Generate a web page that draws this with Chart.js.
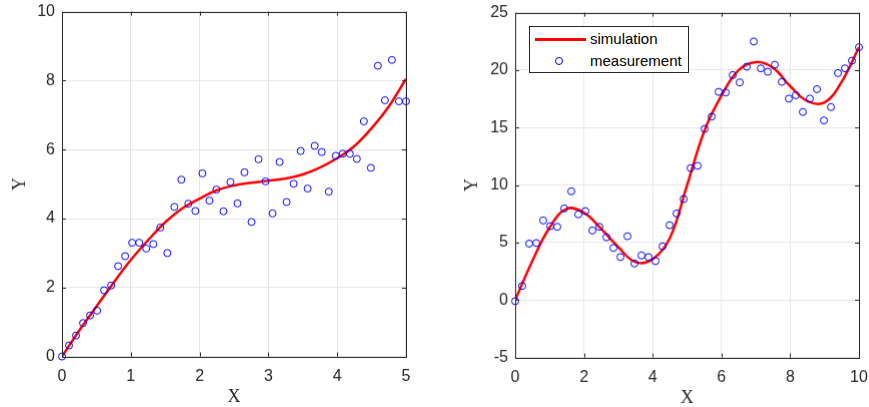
<!DOCTYPE html>
<html>
<head>
<meta charset="utf-8">
<script src="https://cdn.jsdelivr.net/npm/chart.js"></script>
<style>
    body { margin: 0; background: #fff; width: 869px; height: 407px; overflow: hidden; position: relative; font-family: 'Liberation Sans', Arial, sans-serif; }
    .panel { position: absolute; top: 0; height: 407px; }
    #leftBox { left: 0; width: 435px; }
    #rightBox { left: 440px; width: 429px; }
    .legend { position: absolute; left: 529px; top: 26px; width: 160px; height: 47px; box-sizing: border-box; border: 1px solid #262626; background: #fff; font-size: 15px; color: #000; z-index: 2; }
    .legend .line { position: absolute; left: 5px; top: 11px; width: 51px; height: 3px; background: #ff0000; }
    .legend .dot { position: absolute; left: 25px; top: 30px; width: 8px; height: 8px; box-sizing: border-box; border: 1px solid #0000ff; border-radius: 50%; }
    .legend .txt { position: absolute; left: 60px; line-height: 18px; }
</style>
</head>
<body>
<div class="panel" id="leftBox"><canvas id="leftChart"></canvas></div>
<div class="panel" id="rightBox"><canvas id="rightChart"></canvas></div>
<div class="legend">
    <div class="line"></div><div class="txt" style="top:3px">simulation</div>
    <div class="dot"></div><div class="txt" style="top:25px">measurement</div>
</div>
<script>
// Left panel data
const leftX = [0, 0.102, 0.204, 0.306, 0.408, 0.510, 0.612, 0.714, 0.816, 0.918,
    1.020, 1.122, 1.224, 1.327, 1.429, 1.531, 1.633, 1.735, 1.837, 1.939,
    2.041, 2.143, 2.245, 2.347, 2.449, 2.551, 2.653, 2.755, 2.857, 2.959,
    3.061, 3.163, 3.265, 3.367, 3.469, 3.571, 3.673, 3.776, 3.878, 3.980,
    4.082, 4.184, 4.286, 4.388, 4.490, 4.592, 4.694, 4.796, 4.898, 5.0];
const leftMeas = [0, 0.32, 0.61, 0.97, 1.19, 1.33, 1.92, 2.06, 2.62, 2.91,
    3.30, 3.30, 3.13, 3.26, 3.74, 3.00, 4.34, 5.13, 4.43, 4.22,
    5.31, 4.52, 4.84, 4.21, 5.06, 4.44, 5.34, 3.90, 5.72, 5.08,
    4.15, 5.64, 4.48, 5.01, 5.96, 4.87, 6.11, 5.93, 4.78, 5.82,
    5.88, 5.88, 5.73, 6.82, 5.47, 8.43, 7.43, 8.60, 7.40, 7.40];
const leftSimX = [0, 0.25, 0.5, 0.75, 1, 1.25, 1.5, 1.75, 2, 2.25, 2.5,
    2.75, 3, 3.25, 3.5, 3.75, 4, 4.25, 4.5, 4.75, 5];
const leftSim = [0, 0.75, 1.45, 2.14, 2.80, 3.37, 3.89, 4.30, 4.58, 4.82, 4.96,
    5.04, 5.10, 5.16, 5.28, 5.48, 5.75, 6.10, 6.62, 7.25, 8.05];

// Right panel data
const rightX = [0, 0.204, 0.408, 0.612, 0.816, 1.020, 1.224, 1.429, 1.633, 1.837,
    2.041, 2.245, 2.449, 2.653, 2.857, 3.061, 3.265, 3.469, 3.673, 3.878,
    4.082, 4.286, 4.490, 4.694, 4.898, 5.102, 5.306, 5.510, 5.714, 5.918,
    6.122, 6.327, 6.531, 6.735, 6.939, 7.143, 7.347, 7.551, 7.755, 7.959,
    8.163, 8.367, 8.571, 8.776, 8.980, 9.184, 9.388, 9.592, 9.796, 10.0];
const rightMeas = [-0.1, 1.23, 4.91, 4.96, 6.92, 6.43, 6.37, 7.97, 9.46, 7.45,
    7.74, 6.05, 6.37, 5.46, 4.53, 3.74, 5.55, 3.18, 3.88, 3.74,
    3.39, 4.67, 6.51, 7.53, 8.79, 11.48, 11.68, 14.89, 15.95, 18.11,
    18.05, 19.57, 18.93, 20.30, 22.49, 20.15, 19.86, 20.47, 18.98, 17.52,
    17.82, 16.36, 17.52, 18.34, 15.62, 16.79, 19.74, 20.15, 20.82, 21.99];
const rightSimX = [0, 0.5, 1, 1.5, 2, 2.5, 3, 3.5, 4, 4.5, 5,
    5.5, 6, 6.5, 7, 7.5, 8, 8.5, 9, 9.5, 10];
const rightSim = [0, 3.4, 6.3, 7.95, 7.6, 6.2, 4.6, 3.3, 3.55, 5.4, 10.0,
    14.7, 17.8, 20.0, 20.7, 20.2, 18.6, 17.3, 17.2, 19.0, 22.0];

const axisColor = '#262626';
const gridColor = '#e6e6e6';
const tickFont = { family: "'Liberation Sans', Arial, sans-serif", size: 16 };
const titleFont = { family: "'Liberation Serif', 'Times New Roman', serif", size: 18 };

// box around the plot area + inward tick marks (matlab style)
const boxTicks = {
    id: 'boxTicks',
    afterDraw(chart) {
        const { ctx, chartArea: a, scales: { x, y } } = chart;
        const len = 4;
        ctx.save();
        ctx.strokeStyle = axisColor;
        ctx.lineWidth = 1;
        ctx.beginPath();
        x.ticks.forEach(t => {
            const px = Math.round(x.getPixelForValue(t.value)) + 0.5;
            ctx.moveTo(px, a.bottom); ctx.lineTo(px, a.bottom - len);
            ctx.moveTo(px, a.top); ctx.lineTo(px, a.top + len);
        });
        y.ticks.forEach(t => {
            const py = Math.round(y.getPixelForValue(t.value)) + 0.5;
            ctx.moveTo(a.left, py); ctx.lineTo(a.left + len, py);
            ctx.moveTo(a.right, py); ctx.lineTo(a.right - len, py);
        });
        ctx.stroke();
        ctx.strokeRect(Math.round(a.left) + 0.5, Math.round(a.top) + 0.5, Math.round(a.width), Math.round(a.height));
        ctx.restore();
    }
};

function toPoints(xs, ys) {
    return xs.map((v, i) => ({ x: v, y: ys[i] }));
}

function makeChart(id, meas, sim, xr, yr, yWidth, yTitlePad) {
    return new Chart(document.getElementById(id), {
        type: 'scatter',
        data: {
            datasets: [
                {
                    label: 'measurement',
                    data: meas,
                    pointStyle: 'circle',
                    pointRadius: 3.5,
                    pointBorderWidth: 1,
                    borderColor: '#0000ff',
                    backgroundColor: 'rgba(0,0,0,0)',
                    clip: false
                },
                {
                    label: 'simulation',
                    data: sim,
                    showLine: true,
                    borderColor: '#ff0000',
                    borderWidth: 2.5,
                    pointRadius: 0,
                    tension: 0.4
                }
            ]
        },
        options: {
            responsive: true,
            maintainAspectRatio: false,
            animation: false,
            layout: { padding: { top: 0, right: 12, left: 0, bottom: 0 } },
            plugins: { legend: { display: false }, tooltip: { enabled: false } },
            scales: {
                x: {
                    type: 'linear', min: xr[0], max: xr[1],
                    ticks: { stepSize: xr[2], padding: 10, color: axisColor, font: tickFont, maxRotation: 0 },
                    grid: { color: gridColor, drawTicks: false },
                    border: { display: false },
                    title: { display: true, text: 'X', color: axisColor, font: titleFont, padding: { top: 0, bottom: 0 } },
                    afterFit(s) { s.height = 51; }
                },
                y: {
                    type: 'linear', min: yr[0], max: yr[1],
                    ticks: { stepSize: yr[2], padding: 7, color: axisColor, font: tickFont },
                    grid: { color: gridColor, drawTicks: false },
                    border: { display: false },
                    title: { display: true, text: 'Y', color: axisColor, font: titleFont, padding: { top: yTitlePad, bottom: 0 } },
                    afterFit(s) { s.width = yWidth; }
                }
            }
        },
        plugins: [boxTicks]
    });
}

// move/resize the panel so the plot area lands where the reference has it
function fitPanel(chart, box, area) {
    const a = chart.chartArea;
    const top = area.top - a.top;
    const left = area.left - a.left;
    box.style.top = top + 'px';
    box.style.left = left + 'px';
    box.style.height = (box.clientHeight + (area.bottom - top) - a.bottom) + 'px';
    box.style.width = (box.clientWidth + (area.right - left) - a.right) + 'px';
    chart.resize();
}

const leftChart = makeChart('leftChart', toPoints(leftX, leftMeas), toPoints(leftSimX, leftSim),
    [0, 5, 1], [0, 10, 2], 62, 9);
const rightChart = makeChart('rightChart', toPoints(rightX, rightMeas), toPoints(rightSimX, rightSim),
    [0, 10, 2], [-5, 25, 5], 75, 21);

fitPanel(leftChart, document.getElementById('leftBox'), { left: 62, top: 12, right: 406, bottom: 356 });
fitPanel(rightChart, document.getElementById('rightBox'), { left: 515, top: 13, right: 858, bottom: 357 });
</script>
</body>
</html>
